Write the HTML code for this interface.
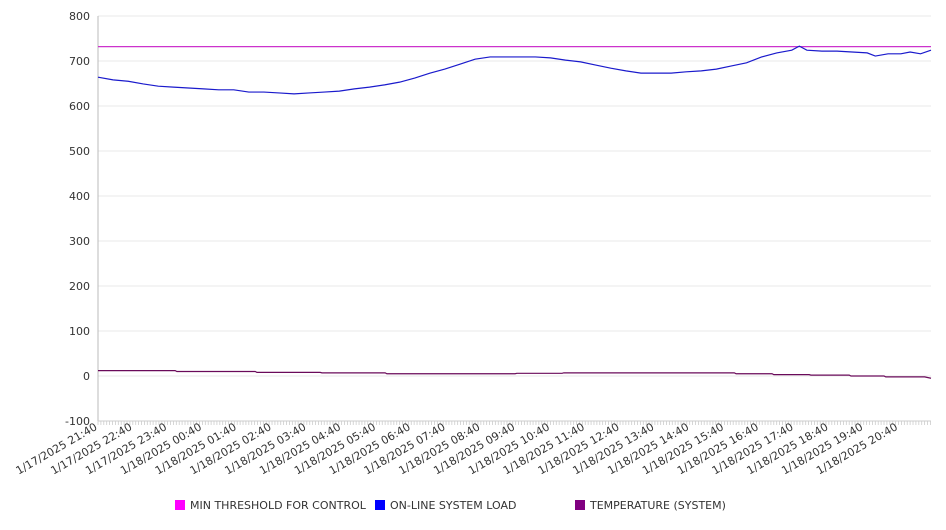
<!DOCTYPE html>
<html><head><meta charset="utf-8"><style>
body{margin:0;background:#fff;width:946px;height:526px;overflow:hidden;font-family:"DejaVu Sans","Liberation Sans",sans-serif}
svg text{font-family:"DejaVu Sans","Liberation Sans",sans-serif;fill:#333}
</style></head><body>
<svg id="chart" width="946" height="526" xmlns="http://www.w3.org/2000/svg"></svg>
<script>
const yTicks=[800,700,600,500,400,300,200,100,0,-100];
const xTickLabels=["1/17/2025 21:40","1/17/2025 22:40","1/17/2025 23:40","1/18/2025 00:40","1/18/2025 01:40","1/18/2025 02:40","1/18/2025 03:40","1/18/2025 04:40","1/18/2025 05:40","1/18/2025 06:40","1/18/2025 07:40","1/18/2025 08:40","1/18/2025 09:40","1/18/2025 10:40","1/18/2025 11:40","1/18/2025 12:40","1/18/2025 13:40","1/18/2025 14:40","1/18/2025 15:40","1/18/2025 16:40","1/18/2025 17:40","1/18/2025 18:40","1/18/2025 19:40","1/18/2025 20:40"];
const thresholdValue=732;
const loadMinutes=[0,26,52,78,104,130,156,182,208,234,260,286,312,338,364,390,416,442,468,494,520,546,572,598,624,650,676,702,728,754,780,806,832,858,884,910,936,962,988,1014,1040,1066,1092,1118,1144,1170,1196,1209,1222,1248,1274,1300,1326,1340,1362,1384,1400,1418,1436];
const loadValues=[664,658,655,649,644,642,640,638,636,636,631,631,629,627,629,631,633,638,642,647,653,662,673,682,693,704,709,709,709,709,707,702,698,691,684,678,673,673,673,676,678,682,689,696,709,718,724,733,724,722,722,720,718,711,716,716,720,716,724];
const tempMinutes=[0,133,136,271,274,383,386,495,498,719,722,800,803,1097,1100,1162,1165,1226,1229,1295,1298,1355,1358,1425,1436];
const tempValues=[12,12,10,10,8,8,7,7,5,5,6,6,7,7,5,5,3,3,2,2,0,0,-2,-2,-5];
const X0=98,X1=931,Y0=16,Y1=421,totalMin=1436;
const sx=m=>X0+m*(X1-X0)/totalMin;
const sy=v=>Y1-(v+100)*(Y1-Y0)/900;
const svg=document.getElementById('chart');
const NS='http://www.w3.org/2000/svg';
function mk(tag,attrs){const e=document.createElementNS(NS,tag);for(const k in attrs)e.setAttribute(k,attrs[k]);svg.appendChild(e);return e;}
yTicks.forEach(v=>{
 const g=mk('line',{x1:X0,x2:X1,y1:sy(v),y2:sy(v),stroke:'#e8e8e8','stroke-width':1});
 
 
 const t=mk('text',{x:90,y:sy(v)+4,'text-anchor':'end','font-size':11});
 t.textContent=v;
 
 
});
const ax=mk('line',{x1:X0,x2:X0,y1:Y0,y2:Y1,stroke:'#bbb'});


const bx=mk('line',{x1:X0,x2:X1,y1:Y1,y2:Y1,stroke:'#ccc'});


for(let m=0;m<=totalMin;m+=5){
 const tk=mk('line',{x1:sx(m),x2:sx(m),y1:Y1,y2:Y1+4,stroke:'#ccc','stroke-width':0.8});
 
 
}
xTickLabels.forEach((l,i)=>{
 const x=sx(i*60),y=Y1+8;
 const t=mk('text',{x:x,y:y,'text-anchor':'end','font-size':11,transform:`rotate(-30 ${x} ${y})`});
 t.textContent=l;
 
 
});
const th=mk('line',{x1:X0,x2:X1,y1:sy(thresholdValue),y2:sy(thresholdValue),stroke:'#cc33cc','stroke-width':1.2});


const lp=mk('polyline',{points:loadMinutes.map((m,i)=>sx(m)+','+sy(loadValues[i])).join(' '),fill:'none',stroke:'#1a1acc','stroke-width':1.2});


const tp=mk('polyline',{points:tempMinutes.map((m,i)=>sx(m)+','+sy(tempValues[i])).join(' '),fill:'none',stroke:'#6a0a5a','stroke-width':1.2});


[["MIN THRESHOLD FOR CONTROL","#ff00ff",175],["ON-LINE SYSTEM LOAD","#0000ff",375],["TEMPERATURE (SYSTEM)","#800080",575]].forEach(([n,c,x])=>{
 const r=mk('rect',{x:x,y:500,width:10,height:10,fill:c});
 
 
 const t=mk('text',{x:x+15,y:509,'font-size':11});
 t.textContent=n;
 
 
});
</script>
</body></html>
